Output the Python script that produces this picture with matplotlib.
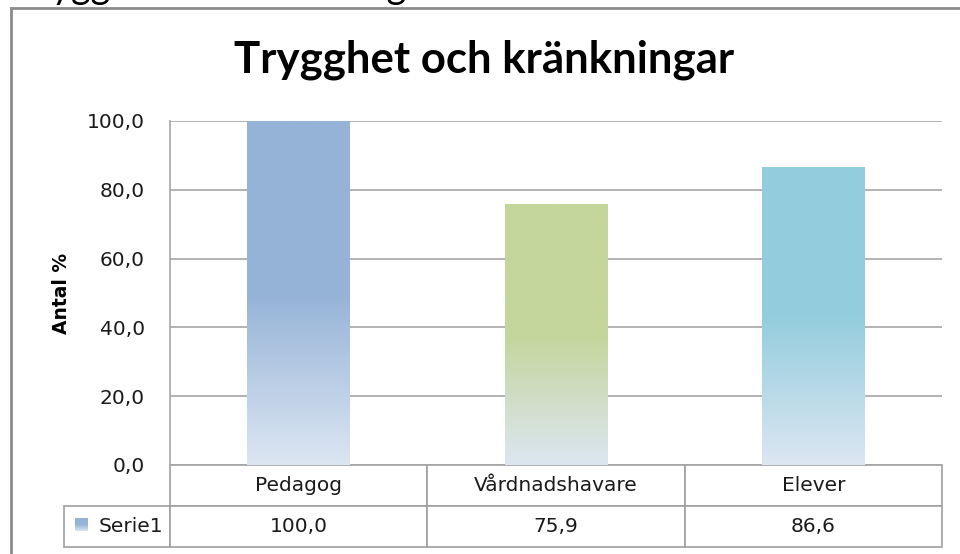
import numpy as np
import matplotlib
matplotlib.use('Agg')
import matplotlib.pyplot as plt
from matplotlib.colors import LinearSegmentedColormap
from matplotlib.lines import Line2D
from matplotlib.ticker import FuncFormatter, MultipleLocator

categories = ['Pedagog', 'Vårdnadshavare', 'Elever']
values = [100.0, 75.9, 86.6]
series_name = 'Serie1'
bar_colors = ['#95b3d7', '#c3d69b', '#93cddd']
fade_color = '#dce6f2'
title = 'Trygghet och kränkningar'
ylabel = 'Antal %'

plt.rcParams['font.family'] = ['DejaVu Sans']
small = 14.5

def sv(v, pos=None):
    return f"{v:.1f}".replace('.', ',')

def fade_cmap(c):
    return LinearSegmentedColormap.from_list('g', [(0, fade_color), (0.5, c), (1, c)])

W, H = 960, 554
fig = plt.figure(figsize=(W / 100, H / 100), dpi=100)
ax = fig.add_axes([170 / W, 1 - 465 / H, 772 / W, 344 / H])

x = np.arange(len(categories))
bars = ax.bar(x, values, width=0.4, color='none', edgecolor='none', zorder=2)

# vertical gradient: light at the bottom, full colour from half height up
grad = np.linspace(0, 1, 256).reshape(-1, 1)
for b, c in zip(bars, bar_colors):
    bx, by = b.get_x(), b.get_y()
    im = ax.imshow(grad, cmap=fade_cmap(c), origin='lower', aspect='auto', zorder=2,
                   extent=[bx, bx + b.get_width(), by, by + b.get_height()])
    im.set_clip_path(b)

ax.yaxis.set_major_locator(MultipleLocator(20))
ax.yaxis.set_major_formatter(FuncFormatter(sv))
ax.grid(axis='y', color='#a6a6a6', linewidth=1.2, zorder=0)
ax.set_axisbelow(True)
for s in ['top', 'right', 'bottom']:
    ax.spines[s].set_visible(False)
ax.spines['left'].set_color('#a6a6a6')
ax.spines['left'].set_linewidth(1.2)
ax.set_xticks([])
ax.tick_params(axis='y', length=0, pad=18, labelsize=small, labelcolor='#1a1a1a')

ax.set_ylabel(ylabel, fontsize=13.5, fontweight='bold')
ax.yaxis.set_label_coords(-0.128, 0.5)

# data table under the plot; first column holds the series name
lab_w = 106 / 772
col_w = [lab_w] + [1 / len(categories)] * len(categories)
tbl = ax.table(cellText=[[series_name] + [sv(v) for v in values]],
               colLabels=[''] + categories, cellLoc='center', colWidths=col_w,
               bbox=[-lab_w, -82 / 344, 1 + lab_w, 82 / 344])
tbl.auto_set_font_size(False)
tbl.set_fontsize(small)
for (r, c), cell in tbl.get_celld().items():
    cell.set_edgecolor('#a0a0a0')
    cell.set_linewidth(1.2)
    cell.get_text().set_color('#1a1a1a')
tbl[0, 0].visible_edges = ''
tbl[1, 0].get_text().set_horizontalalignment('right')
tbl[1, 0].PAD = 0.06

# legend key in the series name cell
key = ax.imshow(grad, cmap=fade_cmap(bar_colors[0]), origin='lower', aspect='auto',
                extent=[-95 / 772, -82 / 772, -66 / 344, -53 / 344],
                transform=ax.transAxes, clip_on=False, zorder=5)

ax.set_xlim(-0.5, len(categories) - 0.5)
ax.set_ylim(0, 100)

fig.text(484 / W, 1 - 73 / H, title, ha='center', va='baseline',
         fontsize=31.5, fontweight='bold', color='#000000', family='Lato')

# clipped heading from the page above the chart
fig.text(16 / W, 1 + 2 / H, title, ha='left', va='baseline', fontsize=27,
         color='#000000', family='Lato')

# outer frame
fig.add_artist(Line2D([11 / W, 11 / W], [0, 1 - 8 / H], transform=fig.transFigure,
                      color='#8c8c8c', linewidth=2))
fig.add_artist(Line2D([11 / W, 1], [1 - 8 / H, 1 - 8 / H], transform=fig.transFigure,
                      color='#8c8c8c', linewidth=2))

fig.savefig('out.png', dpi=100)
